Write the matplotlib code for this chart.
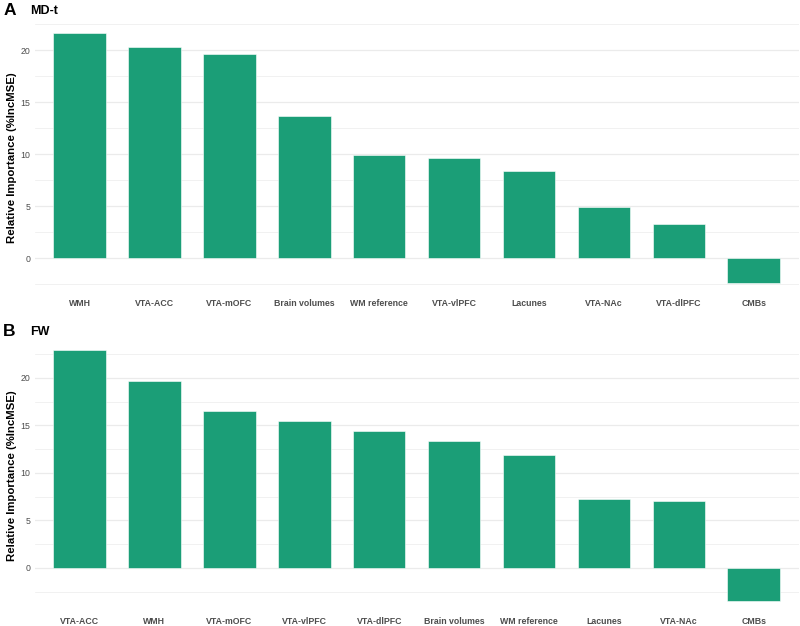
import matplotlib.pyplot as plt
from matplotlib.ticker import MultipleLocator

plt.rcParams['font.family'] = ['Liberation Sans', 'DejaVu Sans']

# panel A: MD-t
cats_a = ["WMH", "VTA-ACC", "VTA-mOFC", "Brain volumes", "WM reference",
          "VTA-vlPFC", "Lacunes", "VTA-NAc", "VTA-dlPFC", "CMBs"]
vals_a = [21.7, 20.3, 19.6, 13.7, 9.9, 9.6, 8.4, 4.9, 3.3, -2.4]

# panel B: FW
cats_b = ["VTA-ACC", "WMH", "VTA-mOFC", "VTA-vlPFC", "VTA-dlPFC",
          "Brain volumes", "WM reference", "Lacunes", "VTA-NAc", "CMBs"]
vals_b = [22.9, 19.7, 16.5, 15.5, 14.4, 13.4, 11.9, 7.2, 7.0, -3.5]

bar_color = "#1B9E77"
grid_color = "#EBEBEB"

fig = plt.figure(figsize=(8, 6.26), dpi=100)
ax_a = fig.add_axes([0.0433, 0.528, 0.955, 0.440])
ax_b = fig.add_axes([0.0433, 0.0196, 0.955, 0.441])


def draw(ax, cats, vals, letter, title, fig_y):
    x = range(len(cats))
    ax.bar(x, vals, 0.7, color=bar_color, edgecolor="white", linewidth=0.4, zorder=2)
    lo, hi = min(vals), max(vals)
    pad = (hi - lo) * 0.05
    ax.set_ylim(lo - pad, hi + pad)
    ax.set_xlim(-0.6, len(cats) - 0.4)
    ax.yaxis.set_major_locator(MultipleLocator(5))
    ax.yaxis.set_minor_locator(MultipleLocator(2.5))
    ax.grid(axis="y", which="major", color=grid_color, linewidth=0.9, zorder=0)
    ax.grid(axis="y", which="minor", color=grid_color, linewidth=0.5, zorder=0)
    ax.set_axisbelow(True)
    for s in ax.spines.values():
        s.set_visible(False)
    ax.set_xticks(list(x))
    ax.set_xticklabels(cats, fontsize=6.3, color="#4D4D4D", fontweight="bold")
    ax.tick_params(axis="x", length=0, pad=2.5)
    ax.tick_params(axis="y", which="both", length=0, labelsize=6.3, labelcolor="#4D4D4D", pad=3)
    ax.set_ylabel("Relative Importance (%IncMSE)", fontsize=8.2, fontweight="bold")
    ax.yaxis.set_label_coords(-0.023, 0.5)
    fig.text(0.004, fig_y, letter, fontsize=12.5, fontweight="bold", va="center")
    fig.text(0.038, fig_y, title, fontsize=9, fontweight="bold", va="center")


draw(ax_a, cats_a, vals_a, "A", "MD-t", 0.983)
draw(ax_b, cats_b, vals_b, "B", "FW", 0.470)

fig.savefig("out.png", dpi=100, facecolor="white")
